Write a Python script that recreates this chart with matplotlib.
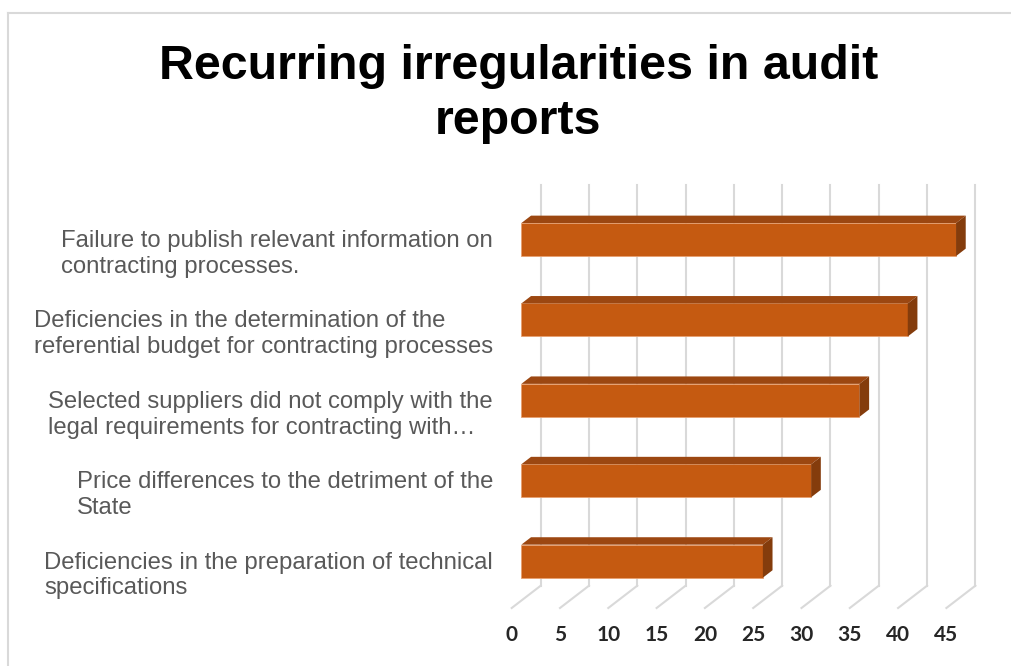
import matplotlib.pyplot as plt
from matplotlib.patches import Polygon
from matplotlib.lines import Line2D

# data
categories = [
    "Failure to publish relevant information on\ncontracting processes.",
    "Deficiencies in the determination of the\nreferential budget for contracting processes",
    "Selected suppliers did not comply with the\nlegal requirements for contracting with\u2026",
    "Price differences to the detriment of the\nState",
    "Deficiencies in the preparation of technical\nspecifications",
]
values = [45, 40, 35, 30, 25]
ticks = [0, 5, 10, 15, 20, 25, 30, 35, 40, 45]

front_color = "#C55A11"
top_color = "#9C4711"
side_color = "#843C0C"
grid_color = "#D9D9D9"

fig = plt.figure(figsize=(10.11, 6.66), dpi=100)
ax = fig.add_axes([0, 0, 1, 1])
ppu = 9.66      # pixels per value unit
ppc = 80.4      # pixels per category
ax.set_xlim(-511.7 / ppu, (1011 - 511.7) / ppu)
ax.set_ylim((666 - 247) / ppc, -247 / ppc)
ax.axis("off")

# oblique depth (full floor depth)
DX = 3.0
DY = -22.3 / ppc
floor_front = (608 - 247) / ppc
wall_top = (185 - 247) / ppc

# back wall gridlines and floor lines
for v in ticks:
    ax.plot([v + DX, v + DX], [floor_front + DY, wall_top], color=grid_color, lw=1.5, zorder=1)
    ax.plot([v, v + DX], [floor_front, floor_front + DY], color=grid_color, lw=1.5, zorder=1)
    ax.text(v, (635 - 247) / ppc, str(v), ha="center", va="center",
            fontsize=15, fontweight="bold", family="Lato", color="#262626")

# bars with 3d look
h = 33 / ppc
pos = list(range(len(values)))
x0 = DX / 3
yc = [p + DY / 3 for p in pos]
ax.barh(yc, values, left=x0, height=h, color=front_color, edgecolor="#E8A070", lw=0.6, zorder=3)
for y, v in zip(yc, values):
    yt, yb = y - h / 2, y + h / 2
    ddx, ddy = DX / 3, DY / 3
    top = Polygon([(x0, yt), (x0 + v, yt), (x0 + v + ddx, yt + ddy), (x0 + ddx, yt + ddy)],
                  closed=True, facecolor=top_color, edgecolor="none", zorder=3)
    side = Polygon([(x0 + v, yt), (x0 + v + ddx, yt + ddy), (x0 + v + ddx, yb + ddy), (x0 + v, yb)],
                   closed=True, facecolor=side_color, edgecolor="none", zorder=3)
    ax.add_patch(top)
    ax.add_patch(side)

# category labels
for p, label in zip(pos, categories):
    ax.text((493 - 511.7) / ppu, p + 0.085, label, ha="right", va="center",
            multialignment="left", fontsize=17.2, family="Liberation Sans",
            color="#595959", linespacing=1.22)

# title
fig.text(518.5 / 1011, 1 - 94 / 666, "Recurring irregularities in audit\nreports",
         ha="center", va="center", fontsize=34.8, fontweight="bold",
         family="Liberation Sans", color="black", linespacing=1.3)

# chart frame
fig.add_artist(Line2D([7.5 / 1011, 7.5 / 1011], [0, 1 - 12.5 / 666], color=grid_color, lw=1.5))
fig.add_artist(Line2D([7.5 / 1011, 1], [1 - 12.5 / 666, 1 - 12.5 / 666], color=grid_color, lw=1.5))

fig.savefig("out.png", dpi=100)
